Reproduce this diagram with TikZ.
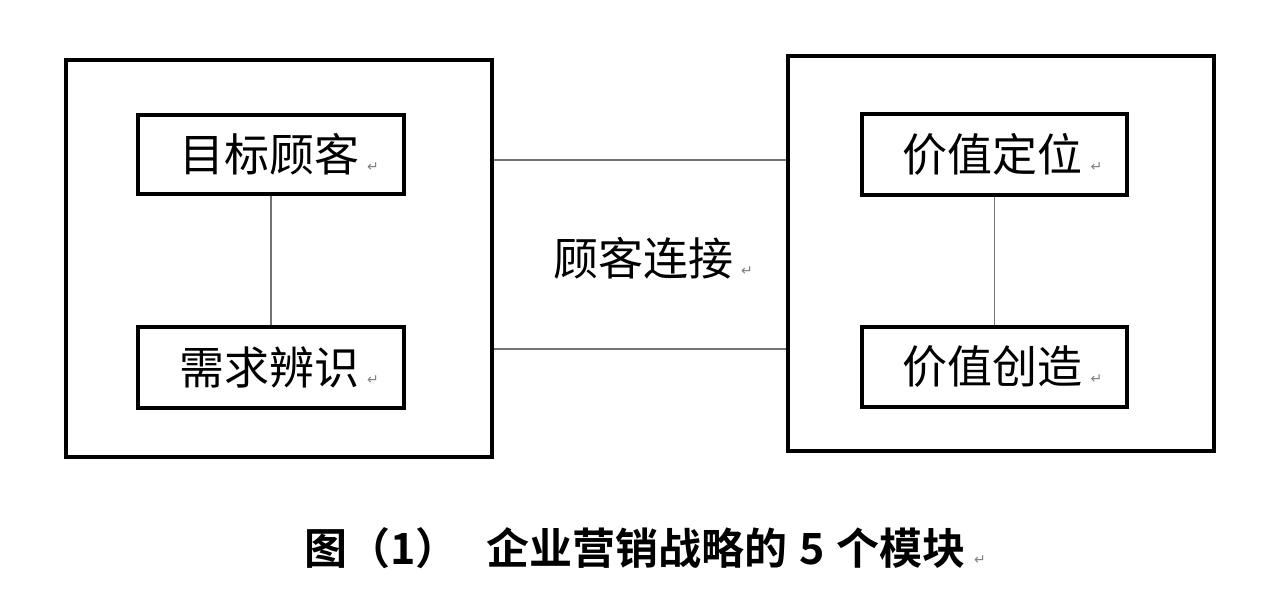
\documentclass[tikz,border=0pt]{standalone}
\usepackage{fontspec}
\newfontfamily\cjk{Noto Sans CJK SC}
\newfontfamily\cjkb{Noto Sans CJK SC Bold}
\newfontfamily\symf{DejaVu Sans}
\newcommand\retmark{\hspace{8pt}{\symf\fontsize{14}{14}\selectfont\color{gray}↵}}
\tikzset{
  outerbox/.style={draw=black, line width=4pt, inner sep=0pt, minimum width=426pt},
  innerbox/.style={draw=black, line width=3.5pt, inner sep=0pt, minimum width=266pt, minimum height=80pt,
     font=\cjk\fontsize{45}{45}\selectfont},
  link/.style={draw=black!55, line width=1.5pt},
  lbl/.style={inner sep=0pt, font=\cjk\fontsize{45}{45}\selectfont},
}
\begin{document}
\begin{tikzpicture}[x=1pt,y=-1pt]
\useasboundingbox[fill=white] (0,0) rectangle (1264,598);
\node[outerbox, minimum height=397pt] (L) at (279,258.5) {};
\node[outerbox, minimum height=395pt] (R) at (1001,253.5) {};
\node[innerbox, minimum height=79pt] (t1) at (271,154.5) {\hspace{16pt}目标顾客\retmark};
\node[innerbox, minimum height=81pt] (t2) at (271,367.5) {\hspace{16pt}需求辨识\retmark};
\node[innerbox, minimum width=265pt, minimum height=81pt] (v1) at (994.5,154.5) {\hspace{16pt}价值定位\retmark};
\node[innerbox, minimum width=265pt, minimum height=80pt] (v2) at (994.5,367) {\hspace{16pt}价值创造\retmark};
\draw[link] (t1.south) -- (t2.north);
\draw[link] (v1.south) -- (v2.north);
\coordinate (c1) at (640,160);
\coordinate (c2) at (640,349);
\draw[link] (L.east |- c1) -- (R.west |- c1);
\draw[link] (L.east |- c2) -- (R.west |- c2);
\node[lbl] (mid) at (653,258) {顾客连接\retmark};
\node[inner sep=0pt, font=\cjkb\fontsize{43}{43}\selectfont] (cap) at (645,548) {图（1）\hspace{28pt}企业营销战略的\hspace{12pt}5\hspace{12pt}个模块\retmark};
\end{tikzpicture}
\end{document}
